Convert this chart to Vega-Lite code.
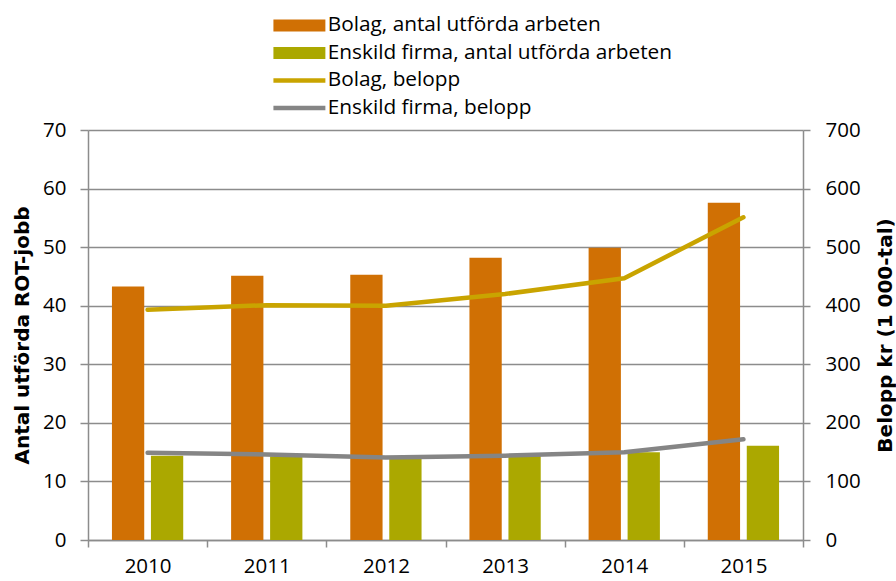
{
  "$schema": "https://vega.github.io/schema/vega-lite/v6.json",
  "width": 715,
  "height": 410,
  "autosize": {"type": "none"},
  "padding": {"left": 88, "top": 130, "right": 93, "bottom": 41},
  "background": "white",
  "config": {
    "view": {"stroke": null},
    "font": "Open Sans",
    "axis": {"labelFont": "Open Sans", "labelFontSize": 20.5, "labelColor": "#000000", "titleFont": "DejaVu Sans", "titleFontSize": 20, "titleFontWeight": "bold", "titleColor": "#000000", "domainColor": "#8c8c8c", "domainWidth": 1.5, "tickColor": "#8c8c8c", "tickWidth": 1.5, "gridColor": "#8c8c8c", "gridWidth": 1.5, "gridOpacity": 1},
    "legend": {"labelFont": "Open Sans", "labelFontSize": 20.8, "labelColor": "#000000", "padding": 0, "labelLimit": 0}
  },
  "datasets": {
    "antal": [
      {"year": "2010", "serie": "Bolag, antal utförda arbeten", "antal": 43.3},
      {"year": "2011", "serie": "Bolag, antal utförda arbeten", "antal": 45.1},
      {"year": "2012", "serie": "Bolag, antal utförda arbeten", "antal": 45.3},
      {"year": "2013", "serie": "Bolag, antal utförda arbeten", "antal": 48.2},
      {"year": "2014", "serie": "Bolag, antal utförda arbeten", "antal": 49.9},
      {"year": "2015", "serie": "Bolag, antal utförda arbeten", "antal": 57.6},
      {"year": "2010", "serie": "Enskild firma, antal utförda arbeten", "antal": 14.4},
      {"year": "2011", "serie": "Enskild firma, antal utförda arbeten", "antal": 14.3},
      {"year": "2012", "serie": "Enskild firma, antal utförda arbeten", "antal": 14.0},
      {"year": "2013", "serie": "Enskild firma, antal utförda arbeten", "antal": 14.4},
      {"year": "2014", "serie": "Enskild firma, antal utförda arbeten", "antal": 15.0},
      {"year": "2015", "serie": "Enskild firma, antal utförda arbeten", "antal": 16.1}
    ],
    "belopp": [
      {"year": "2010", "serie": "Bolag, belopp", "belopp": 393},
      {"year": "2011", "serie": "Bolag, belopp", "belopp": 401},
      {"year": "2012", "serie": "Bolag, belopp", "belopp": 400},
      {"year": "2013", "serie": "Bolag, belopp", "belopp": 420},
      {"year": "2014", "serie": "Bolag, belopp", "belopp": 447},
      {"year": "2015", "serie": "Bolag, belopp", "belopp": 551},
      {"year": "2010", "serie": "Enskild firma, belopp", "belopp": 149},
      {"year": "2011", "serie": "Enskild firma, belopp", "belopp": 146},
      {"year": "2012", "serie": "Enskild firma, belopp", "belopp": 141},
      {"year": "2013", "serie": "Enskild firma, belopp", "belopp": 144},
      {"year": "2014", "serie": "Enskild firma, belopp", "belopp": 150},
      {"year": "2015", "serie": "Enskild firma, belopp", "belopp": 172}
    ]
  },
  "layer": [
    {
      "data": {"name": "antal"},
      "mark": {"type": "bar"},
      "encoding": {
        "x": {"field": "year", "type": "nominal", "scale": {"paddingInner": 0, "paddingOuter": 0},
          "axis": {"title": null, "labelAngle": 0, "tickBand": "extent", "tickSize": 7, "labelPadding": 9, "grid": false}},
        "xOffset": {"field": "serie", "type": "nominal", "scale": {"domain": ["Bolag, antal utförda arbeten", "Enskild firma, antal utförda arbeten"], "paddingInner": 0.172, "paddingOuter": 0.614}},
        "y": {"field": "antal", "type": "quantitative", "scale": {"domain": [0, 70], "nice": false},
          "axis": {"title": "Antal utförda ROT-jobb", "values": [0, 10, 20, 30, 40, 50, 60, 70], "grid": true, "tickSize": 8, "labelPadding": 14, "titleAngle": -90, "titleX": -60, "titleY": 205, "titleAlign": "center", "titleBaseline": "alphabetic"}},
        "color": {"field": "serie", "type": "nominal",
          "scale": {"domain": ["Bolag, antal utförda arbeten", "Enskild firma, antal utförda arbeten"], "range": ["#D07004", "#ABA800"]},
          "legend": {"title": null, "orient": "none", "legendX": 181, "legendY": -115, "symbolType": "M-4.33,-1H4.33V1H-4.33Z", "symbolSize": 144, "symbolStrokeWidth": 0, "symbolOffset": 20, "labelOffset": 18, "rowPadding": 5.5}}
      }
    },
    {
      "data": {"name": "belopp"},
      "mark": {"type": "line", "strokeWidth": 4.5, "strokeCap": "round", "strokeJoin": "round"},
      "encoding": {
        "x": {"field": "year", "type": "nominal"},
        "y": {"field": "belopp", "type": "quantitative", "scale": {"domain": [0, 700], "nice": false},
          "axis": {"orient": "right", "title": "Belopp kr (1 000-tal)", "values": [0, 100, 200, 300, 400, 500, 600, 700], "grid": false, "tickSize": 7, "labelPadding": 15, "titleAngle": -90, "titleX": 88, "titleY": 205, "titleAlign": "center", "titleBaseline": "alphabetic"}},
        "stroke": {"field": "serie", "type": "nominal",
          "scale": {"domain": ["Bolag, belopp", "Enskild firma, belopp"], "range": ["#C9A400", "#858585"]},
          "legend": {"title": null, "orient": "none", "legendX": 181, "legendY": -60, "symbolType": "M-4.33,0H4.33", "symbolSize": 144, "symbolStrokeWidth": 4.5, "symbolFillColor": "transparent", "symbolOffset": 20, "labelOffset": 18, "rowPadding": 5.5}}
      }
    }
  ],
  "resolve": {"scale": {"y": "independent"}, "axis": {"y": "independent"}}
}
